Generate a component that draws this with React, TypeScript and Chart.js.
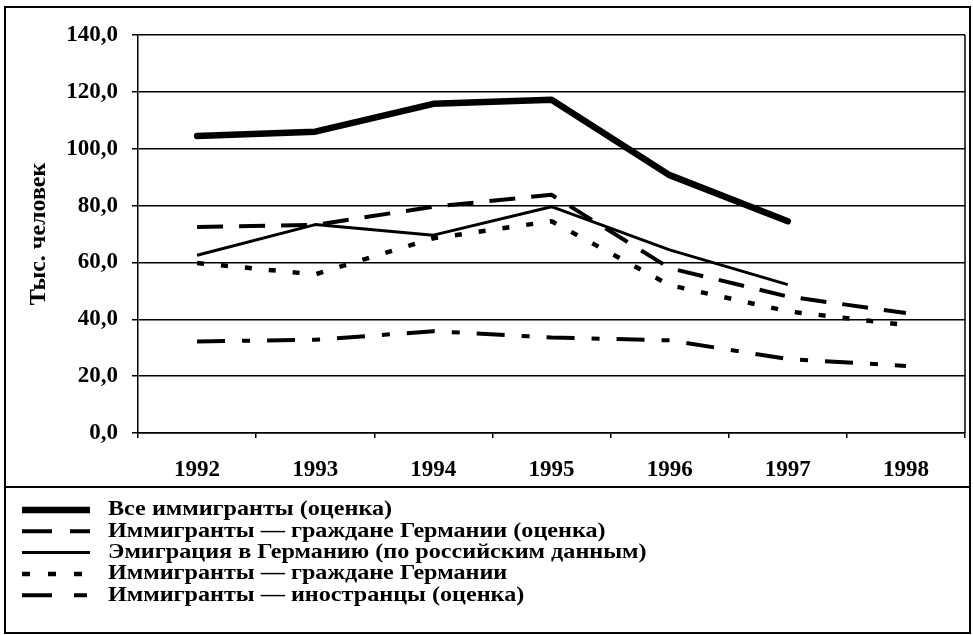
import React, { useEffect, useRef } from 'react';
import { Chart, registerables } from 'chart.js';

Chart.register(...registerables);

const years = ['1992', '1993', '1994', '1995', '1996', '1997', '1998'];
const allImmigrantsEst = [104.5, 106.0, 115.8, 117.2, 90.7, 74.5, null];
const germanCitizensEst = [72.5, 73.2, 79.6, 83.8, 58.0, 48.0, 42.2];
const emigrationRussianData = [62.5, 73.3, 69.6, 79.6, 64.4, 52.2, null];
const germanCitizens = [59.8, 55.8, 68.5, 74.5, 52.0, 42.8, 38.0];
const foreignersEst = [32.2, 32.8, 35.8, 33.6, 32.6, 26.0, 23.6];
const seriesLabels = [
  'Все иммигранты (оценка)',
  'Иммигранты — граждане Германии (оценка)',
  'Эмиграция в Германию (по российским данным)',
  'Иммигранты — граждане Германии',
  'Иммигранты — иностранцы (оценка)',
];
const yTicks = [0, 20, 40, 60, 80, 100, 120, 140];
const yTitle = 'Тыс. человек';

const FONT = '"Liberation Serif", "Times New Roman", serif';

const framePlugin = {
  id: 'frame',
  beforeDraw(chart: any) {
    const { ctx, width, height } = chart;
    ctx.save();
    ctx.fillStyle = '#fff';
    ctx.fillRect(0, 0, width, height);
    ctx.strokeStyle = '#000';
    ctx.lineWidth = 2;
    ctx.strokeRect(5, 7, width - 8, height - 9);
    ctx.beginPath();
    ctx.moveTo(5, 487);
    ctx.lineTo(width - 3, 487);
    ctx.stroke();
    ctx.restore();
  },
  afterDraw(chart: any) {
    const { ctx, chartArea } = chart;
    ctx.save();
    ctx.strokeStyle = '#000';
    ctx.lineWidth = 1.5;
    ctx.beginPath();
    ctx.moveTo(chartArea.right, chartArea.top);
    ctx.lineTo(chartArea.right, chartArea.bottom);
    ctx.stroke();
    // legend
    const top = 510;
    const row = 21.3;
    chart.data.datasets.forEach((ds: any, i: number) => {
      const y = top + i * row;
      ctx.save();
      ctx.strokeStyle = '#000';
      ctx.lineWidth = ds.borderWidth;
      ctx.lineCap = 'butt';
      ctx.setLineDash(ds.legendDash || []);
      ctx.beginPath();
      ctx.moveTo(22, y);
      ctx.lineTo(90, y);
      ctx.stroke();
      ctx.restore();
      ctx.save();
      ctx.translate(108, y);
      ctx.scale(1.15, 1);
      ctx.fillStyle = '#000';
      ctx.font = `bold 21px ${FONT}`;
      ctx.textBaseline = 'middle';
      ctx.textAlign = 'left';
      ctx.fillText(ds.label, 0, 0);
      ctx.restore();
    });
    ctx.restore();
  },
};

export default function App() {
  const ref = useRef<HTMLCanvasElement>(null);
  useEffect(() => {
    document.body.style.margin = '0';
    const common = {
      borderColor: '#000',
      backgroundColor: '#000',
      pointRadius: 0,
      pointHoverRadius: 0,
      tension: 0,
      fill: false,
      spanGaps: false,
      borderJoinStyle: 'round',
    };
    const chart = new Chart(ref.current!, {
      type: 'line',
      data: {
        labels: years,
        datasets: [
          { ...common, label: seriesLabels[0], data: allImmigrantsEst, borderWidth: 6.5, borderCapStyle: 'round', legendDash: [] },
          { ...common, label: seriesLabels[1], data: germanCitizensEst, borderWidth: 4, borderDash: [26, 16], legendDash: [30, 18] },
          { ...common, label: seriesLabels[2], data: emigrationRussianData, borderWidth: 3, legendDash: [] },
          { ...common, label: seriesLabels[3], data: germanCitizens, borderWidth: 4.5, borderDash: [7, 17], legendDash: [8, 18] },
          { ...common, label: seriesLabels[4], data: foreignersEst, borderWidth: 4, borderDash: [28, 17, 8, 17], legendDash: [30, 22, 13, 100] },
        ] as any,
      },
      options: {
        animation: false,
        responsive: true,
        maintainAspectRatio: false,
        layout: { padding: { left: 0, top: 35, right: 8, bottom: 148 } },
        plugins: { legend: { display: false }, tooltip: { enabled: false } },
        scales: {
          x: {
            type: 'category',
            offset: true,
            grid: { offset: true, drawOnChartArea: false, drawTicks: true, tickLength: 5, color: '#000', lineWidth: 1.5 },
            border: { color: '#000', width: 1.5 },
            ticks: { color: '#000', font: { family: FONT, size: 23, weight: 'bold' }, padding: 18, maxRotation: 0, autoSkip: false },
            afterFit: (s: any) => { s.height = 54; },
          },
          y: {
            min: 0,
            max: 140,
            afterBuildTicks: (s: any) => { s.ticks = yTicks.map((v) => ({ value: v })); },
            ticks: {
              color: '#000',
              font: { family: FONT, size: 23, weight: 'bold' },
              padding: 14,
              callback: (v: any) => Number(v).toFixed(1).replace('.', ','),
            },
            grid: { color: '#000', lineWidth: 1.5, tickLength: 6 },
            border: { color: '#000', width: 1.5 },
            title: { display: true, text: yTitle, color: '#000', font: { family: FONT, size: 24, weight: 'bold' }, padding: { top: 24, bottom: 0 } },
            afterFit: (s: any) => { s.width = 138; },
          },
        },
      } as any,
      plugins: [framePlugin],
    });
    return () => chart.destroy();
  }, []);
  return (
    <div style={{ width: 973, height: 635, position: 'relative' }}>
      <canvas ref={ref} />
    </div>
  );
}
